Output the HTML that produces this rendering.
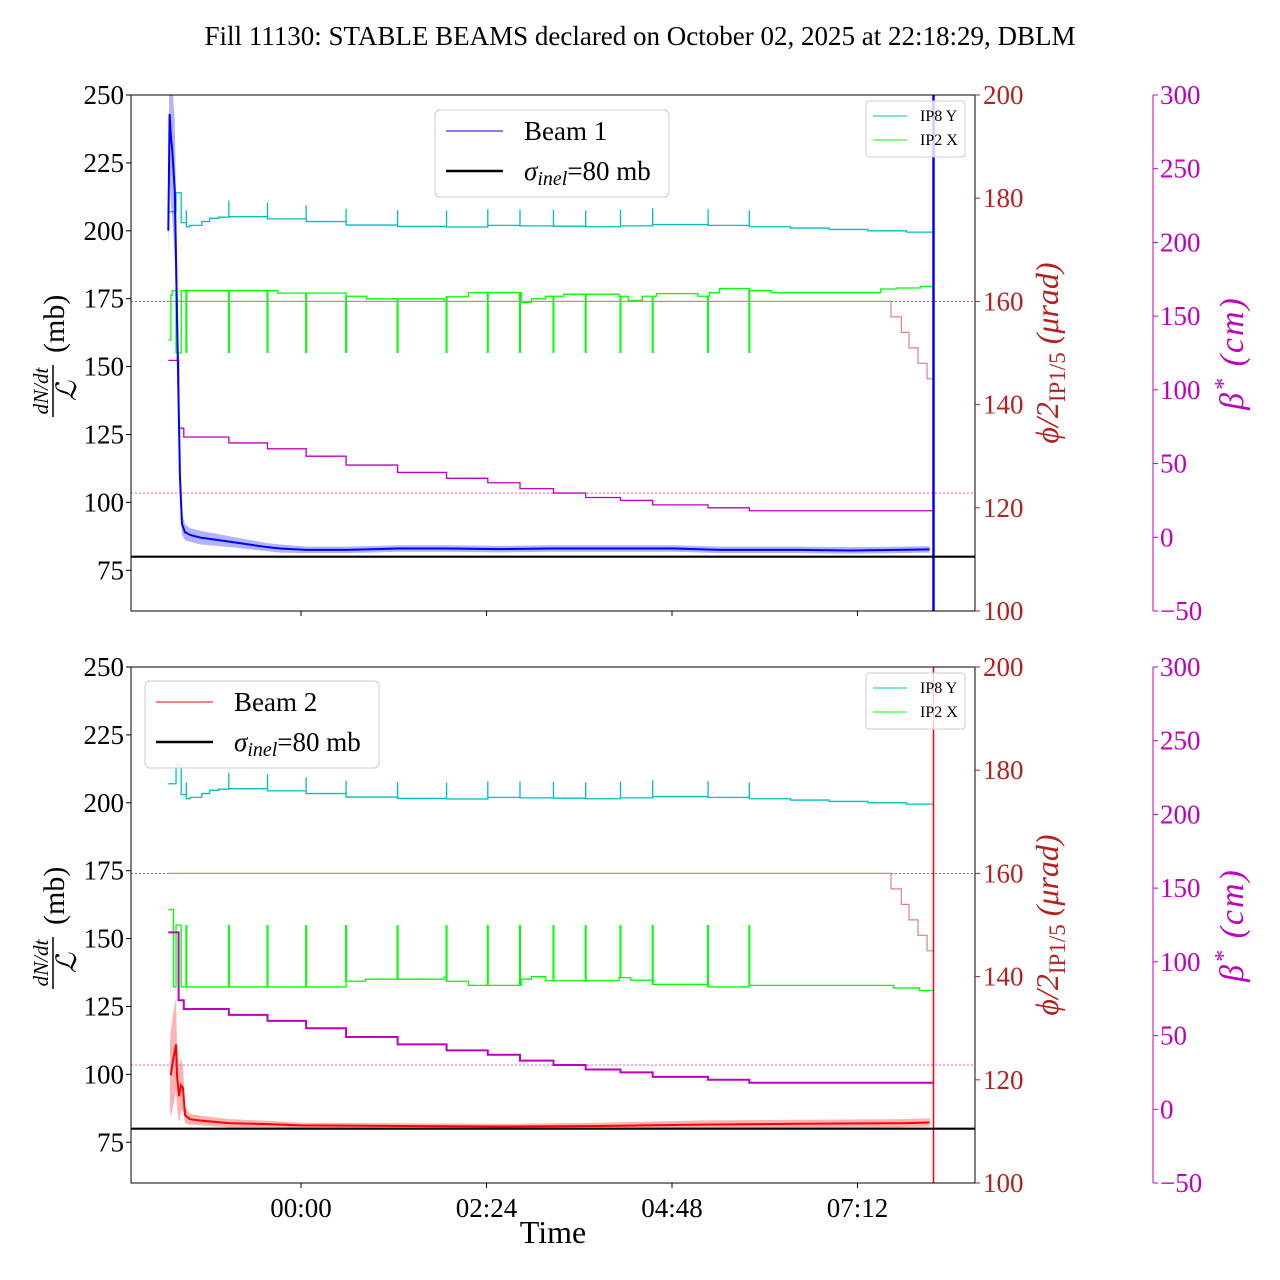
<!DOCTYPE html>
<html><head><meta charset="utf-8"><style>
body{margin:0;background:#fff}
svg{display:block;font-family:"Liberation Serif",serif}
</style></head><body>
<svg id="chart" width="1280" height="1280" viewBox="0 0 1280 1280">
<text x="640" y="45" text-anchor="middle" font-size="27">Fill 11130: STABLE BEAMS declared on October 02, 2025 at 22:18:29, DBLM</text>
<g id="plots"></g>
</svg>
<script>
// ---- data (time in minutes relative to 00:00) ----
const xTickLabels = ["00:00","02:24","04:48","07:12"];
const xTickTimes = [0,144,288,432];
const leftTicks = [75,100,125,150,175,200,225,250];
const redTicks = [100,120,140,160,180,200];
const magTicks = [-50,0,50,100,150,200,250,300];
const tEnd = 491;
const eventTimes = [-89,-56,-26,4,35,75,113,145,170,196,221,248,273,316,348];
const betaTimes = [-103,-95,-91,-56,-26,4,35,75,113,145,170,196,221,248,273,316,348];
const betaVals = [120,74,68,64,60,55,49,44,40,37,33,30,27,25,22,20,18];
const xingTimes = [-103,458,466,472,479,486];
const xingVals = [160,157,154,151,148,145];
const ip8Times = [-103,-97,-93,-89,-86,-77,-71,-64,-56,-26,4,35,75,113,145,170,196,221,248,273,316,348,380,410,440,470];
const ip8Vals = [207,214,203,201.5,202,203.4,204.6,205,205.2,204.4,203.4,202.1,201.6,201.4,202,201.8,201.7,201.5,201.8,202.3,202,201.5,201,200.5,200,199.5];
const ip2TopTimes = [-103,-101,-100,-97,-93,-18,35,51,111,113,130,171,179,190,204,247,254,265,276,308,317,325,348,365,450,462,481];
const ip2TopVals = [152.5,161.2,162.1,150,162.1,161.6,161,160.5,160,160.9,161.7,159.8,160.5,161,161.4,161,160.2,161,161.5,161,161.7,162.5,162.1,161.7,162.4,162.6,162.9];
const ip2BotTimes = [-103,-99,-97,-93,35,50,111,113,130,171,179,190,247,256,273,316,348,460,480];
const ip2BotVals = [153,138,150,138,139.1,139.5,139.9,139.1,138.3,139.5,140,139.2,139.8,139.3,138.5,138,138.3,137.8,137.3];
const beam1Times = [-103,-102,-101,-100,-98,-95.5,-94,-92.4,-90,-86,-78,-55,-26,-16,4,35,75,113,155,195,232,260,290,325,348,387,426,464,488];
const beam1Vals = [200,243,235,230,215,150,110,92,89,88,87,85.5,83.5,83,82.5,82.5,83,83,82.8,83,83,83,83,82.5,82.5,82.5,82.3,82.5,82.7];
const beam1Err = [10,25,25,25,25,18,8,4,3,2.5,2.5,2,1.5,1.5,1.2,1.2,1.2,1.2,1.2,1.2,1.2,1.2,1.2,1.2,1.2,1.2,1.2,1.2,1.2];
const beam2Times = [-101.7,-101,-99.4,-97,-96.3,-94.7,-93.2,-91.6,-90,-86.2,-78.4,-55,-26,0,77,154,232,310,387,465,488];
const beam2Vals = [100,100,105,111,100,92,96,95,85,83.5,83,82,81.7,81.2,81,80.8,81,81.5,81.8,82,82.3];
const beam2Err = [12,16,17,17,12,10,10,8,3,2,1.8,1.5,1.2,1,1,1,1.2,1.5,1.5,1.5,1.5];
const sigmaInel = 80;

const NS="http://www.w3.org/2000/svg";
const X0=131,X1=975,H=516;
function xs(t){return 301+t*185.5/144;}
function yL(v,top){return top+H-(v-60)*H/190;}
function yR(v,top){return top+H-(v-100)*H/100;}
function yM(v,top){return top+H-(v+50)*H/350;}
function el(tag,attrs,parent){const e=document.createElementNS(NS,tag);for(const k in attrs)e.setAttribute(k,attrs[k]);parent.appendChild(e);return e;}
function stepPath(times,vals,yf,top,end){let d="";for(let i=0;i<times.length;i++){const x=xs(times[i]),y=yf(vals[i],top);d+=(i?"L"+x+" "+yf(vals[i-1],top)+"L":"M")+x+" "+y;}d+="L"+xs(end)+" "+yf(vals[vals.length-1],top);return d;}
function spikePath(times,vals,yf,top,target){let d="";for(const t of eventTimes){let v=vals[0];for(let i=0;i<times.length;i++)if(times[i]<=t)v=vals[i];const x=xs(t);d+="M"+x+" "+yf(v,top)+"L"+x+" "+yf(target===null?v+6:target,top);}return d;}
function linePath(times,vals,yf,top){return times.map((t,i)=>(i?"L":"M")+xs(t)+" "+yf(vals[i],top)).join("");}
function bandPath(times,vals,err,yf,top){let d=times.map((t,i)=>(i?"L":"M")+xs(t)+" "+yf(vals[i]+err[i],top)).join("");for(let i=times.length-1;i>=0;i--)d+="L"+xs(times[i])+" "+yf(vals[i]-err[i],top);return d+"Z";}

const root=document.getElementById('plots');
function panel(top,idx){
  const g=el('g',{},root);
  
  
  const cp=el('clipPath',{id:'cp'+idx},g);el('rect',{x:X0,y:top,width:X1-X0,height:H},cp);
  const d=el('g',{'clip-path':'url(#cp'+idx+')'},g);
  const r1=el('line',{x1:X0,x2:X1,y1:yR(160,top),y2:yR(160,top),stroke:'#b22222','stroke-width':0.8,'stroke-dasharray':'2,2'},d);
  
  
  const r2=el('line',{x1:X0,x2:X1,y1:yM(30,top),y2:yM(30,top),stroke:'#e040e0','stroke-width':0.8,'stroke-dasharray':'2,2'},d);
  
  
  const c=el('path',{d:stepPath(ip8Times,ip8Vals,yL,top,tEnd)+spikePath(ip8Times,ip8Vals,yL,top,null),fill:'none',stroke:'#00bfbf','stroke-width':1.3},d);
  
  
  const gt=idx===1?ip2TopTimes:ip2BotTimes, gv=idx===1?ip2TopVals:ip2BotVals;
  const gp=el('path',{d:stepPath(gt,gv,yR,top,tEnd),fill:'none',stroke:'#00ff00','stroke-width':1.3},d);
  
  
  const gs=el('path',{d:spikePath(gt,gv,yR,top,150),fill:'none',stroke:'#00ff00','stroke-width':2},d);
  
  
  const xp=el('path',{d:stepPath(xingTimes,xingVals,yR,top,tEnd),fill:'none',stroke:'#e08080','stroke-width':1.2},d);
  
  
  const bp=el('path',{d:stepPath(betaTimes,betaVals,yM,top,tEnd),fill:'none',stroke:'#bf00bf','stroke-width':idx===1?1.3:2},d);
  
  
  const bt=idx===1?beam1Times:beam2Times,bv=idx===1?beam1Vals:beam2Vals,be=idx===1?beam1Err:beam2Err;
  const col=idx===1?'#0000ff':'#ff0000';
  const band=el('path',{d:bandPath(bt,bv,be,yL,top),fill:col,'fill-opacity':0.3,stroke:'none'},d);
  
  
  const bl=el('path',{d:linePath(bt,bv,yL,top),fill:'none',stroke:col,'stroke-width':2},d);
  
  
  const vl=el('line',{x1:xs(tEnd),x2:xs(tEnd),y1:top,y2:top+H,stroke:col,'stroke-width':idx===1?2.5:1.5},d);
  
  
  const sl=el('line',{x1:X0,x2:X1,y1:yL(sigmaInel,top),y2:yL(sigmaInel,top),stroke:'#000','stroke-width':2.2},d);
  
  
  const fr=el('rect',{x:X0,y:top,width:X1-X0,height:H,fill:'none',stroke:'#000','stroke-width':1},g);
  
  
  for(const v of leftTicks){const y=yL(v,top);el('line',{x1:X0-5,x2:X0,y1:y,y2:y,stroke:'#000'},g);
    const t=el('text',{x:X0-7,y:y+9,'text-anchor':'end','font-size':27},g);t.textContent=v;
    
    }
  for(const v of redTicks){const y=yR(v,top);el('line',{x1:X1,x2:X1+5,y1:y,y2:y,stroke:'#b22222'},g);
    const t=el('text',{x:X1+8,y:y+9,'font-size':27,fill:'#b22222'},g);t.textContent=v;
    
    }
  el('line',{x1:1153,x2:1153,y1:top,y2:top+H,stroke:'#bf00bf'},g);
  for(const v of magTicks){const y=yM(v,top);el('line',{x1:1153,x2:1158,y1:y,y2:y,stroke:'#bf00bf'},g);
    const t=el('text',{x:1160,y:y+9,'font-size':27,fill:'#bf00bf'},g);t.textContent=(v<0?'\u2212'+(-v):v);
    
    }
  for(let i=0;i<xTickTimes.length;i++){const x=xs(xTickTimes[i]);el('line',{x1:x,x2:x,y1:top+H,y2:top+H+5,stroke:'#000'},g);
    if(idx===2){const t=el('text',{x:x,y:top+H+34,'text-anchor':'middle','font-size':27},g);t.textContent=xTickLabels[i];
      
      }}
  const yl=el('g',{transform:'translate(53,'+(top+260)+') rotate(-90)'},g);
  
  
  yl.innerHTML='<text x="-36" y="-5" text-anchor="middle" font-size="21" font-style="italic">dN/dt</text><line x1="-62" x2="-10" y1="0" y2="0" stroke="#000" stroke-width="1.5"/><text x="-36" y="23" text-anchor="middle" font-size="28" font-style="italic">ℒ</text><text x="2" y="11" font-size="30">(mb)</text>';
  const rl=el('text',{transform:'translate(1058,'+(top+258)+') rotate(-90)','text-anchor':'middle','font-size':32,fill:'#b22222'},g);
  rl.innerHTML='<tspan font-style="italic">ϕ/2</tspan><tspan font-size="23" dy="7">IP1/5</tspan><tspan dy="-7" font-style="italic"> (μrad)</tspan>';
  
  
  const ml=el('text',{transform:'translate(1243,'+(top+258)+') rotate(-90)','text-anchor':'middle','font-size':34,fill:'#bf00bf','font-style':'italic','letter-spacing':'2'},g);
  ml.innerHTML='β<tspan font-size="24" dy="-12">*</tspan><tspan dy="12"> (cm)</tspan>';
  
  
  const sg=el('g',{},g);
  
  
  sg.innerHTML='<rect x="866" y="'+(top+6)+'" width="99" height="56" rx="3" fill="#fff" fill-opacity="0.8" stroke="#ccc"/><line x1="873" x2="907" y1="'+(top+21)+'" y2="'+(top+21)+'" stroke="#00bfbf"/><text x="920" y="'+(top+26)+'" font-size="16">IP8 Y</text><line x1="873" x2="907" y1="'+(top+45)+'" y2="'+(top+45)+'" stroke="#00ff00"/><text x="920" y="'+(top+50)+'" font-size="16">IP2 X</text>';
  const lx=idx===1?435:145, ly=idx===1?110:681;
  const lg=el('g',{},g);
  
  
  lg.innerHTML='<rect x="'+lx+'" y="'+ly+'" width="234" height="87" rx="5" fill="#fff" fill-opacity="0.85" stroke="#ccc"/><line x1="'+(lx+11)+'" x2="'+(lx+68)+'" y1="'+(ly+21)+'" y2="'+(ly+21)+'" stroke="'+(idx===1?'#0000cc':'#ee0000')+'"/><text x="'+(lx+89)+'" y="'+(ly+30)+'" font-size="27">Beam '+idx+'</text><line x1="'+(lx+11)+'" x2="'+(lx+68)+'" y1="'+(ly+61)+'" y2="'+(ly+61)+'" stroke="#000" stroke-width="2.5"/><text x="'+(lx+89)+'" y="'+(ly+70)+'" font-size="27"><tspan font-style="italic">σ</tspan><tspan font-style="italic" font-size="20" dy="5">inel</tspan><tspan dy="-5">=80 mb</tspan></text>';
}
panel(95,1);
panel(667,2);
const xt=el('text',{x:553,y:1243,'text-anchor':'middle','font-size':32},root);
xt.textContent='Time';


</script>
</body></html>
